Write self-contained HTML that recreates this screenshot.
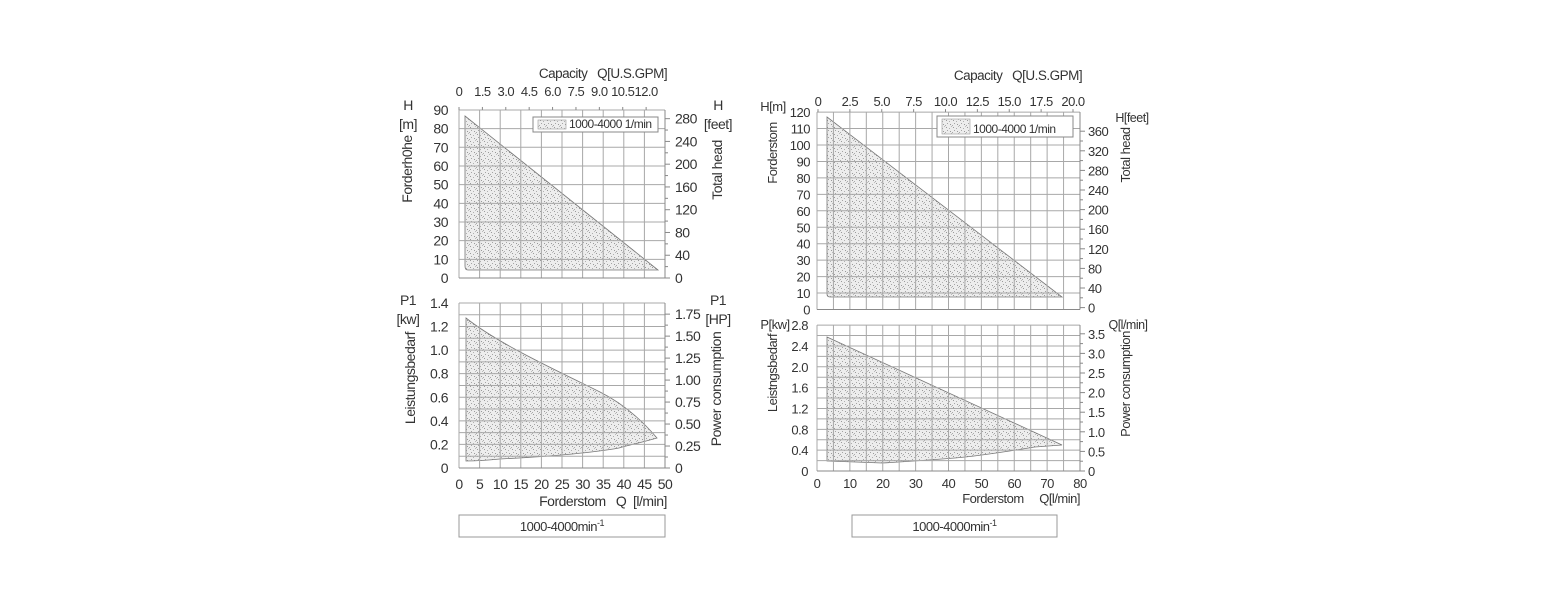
<!DOCTYPE html>
<html><head><meta charset="utf-8"><style>
html,body{margin:0;padding:0;background:#fff;}
svg{display:block;}
text{font-family:"Liberation Sans",sans-serif;fill:#333;letter-spacing:-0.5px;}
</style></head><body>
<svg id="s" width="1560" height="600" xmlns="http://www.w3.org/2000/svg">
<defs>
<pattern id="dots" width="7" height="7" patternUnits="userSpaceOnUse">
<rect width="7" height="7" fill="#ededed"/>
<rect x="1" y="1" width="1" height="1" fill="#9a9a9a"/>
<rect x="4" y="2" width="1" height="1" fill="#b0b0b0"/>
<rect x="2" y="4" width="1" height="1" fill="#a5a5a5"/>
<rect x="5" y="5" width="1" height="1" fill="#999"/>
<rect x="6" y="0" width="1" height="1" fill="#bbb"/>
<rect x="0" y="6" width="1" height="1" fill="#aaa"/>
</pattern>
</defs>
<g id="g"></g>
</svg>
<script>
const g=document.getElementById('g');let h='';
function L(x1,y1,x2,y2,c,w){h+=`<line x1="${x1}" y1="${y1}" x2="${x2}" y2="${y2}" stroke="${c||'#a8a8a8'}" stroke-width="${w||1}"/>`;}
function T(x,y,s,a,fs,extra){h+=`<text x="${x}" y="${y}" font-size="${fs||13}" text-anchor="${a||'middle'}" ${extra||''}>${s}</text>`;}
function R(x,y,s,fs){h+=`<text x="0" y="0" font-size="${fs||13}" text-anchor="middle" transform="translate(${x},${y}) rotate(-90)">${s}</text>`;}
function P(d){h+=`<path d="${d}" fill="url(#dots)" stroke="#777" stroke-width="0.8"/>`;}
function legend(x,y,w,hh){h+=`<rect x="${x}" y="${y}" width="${w}" height="${hh}" fill="#fff" stroke="#888"/>`;h+=`<rect x="${x+5}" y="${y+3}" width="28" height="${hh-6}" fill="url(#dots)" stroke="#999" stroke-width="0.6"/>`;T(x+36,y+hh-4,'1000-4000 1/min','start',12);}
function box(x,y,w,hh){h+=`<rect x="${x}" y="${y}" width="${w}" height="${hh}" fill="#fff" stroke="#999"/>`;h+=`<text x="${x+w/2}" y="${y+16}" font-size="13" text-anchor="middle">1000-4000min<tspan dy="-5" font-size="9">-1</tspan></text>`;}

// ===== LEFT TOP =====
let x0=459,x1=665,kx=4.12;
let yT=(m)=>278-m*1.867;
P(`M465,116 L658,270 L468,270 Q465,270 465,266 Z`);
for(let q=0;q<=50;q+=5)L(x0+q*kx,yT(90),x0+q*kx,278);
for(let m=0;m<=90;m+=10){L(x0,yT(m),x1,yT(m));T(448,yT(m)+5,m,'end',14);}
L(x0,278,x1,278,'#888');L(x1,yT(90),x1,278,'#888');
for(let f=0;f<=280;f+=20){let y=278-f*0.3048*1.867;L(x1,y,x1+(f%40==0?5:3),y,'#888');if(f%40==0)T(675,y+5,f,'start',14);}
['0','1.5','3.0','4.5','6.0','7.5','9.0','10.5','12.0'].forEach((s,i)=>{let x=x0+i*1.5*3.785*kx;T(x,96,s,'middle',13,'letter-spacing="-1"');L(x,yT(90),x,yT(90)-3,'#888');});
T(603,78,'Capacity&#160;&#160;&#160;Q[U.S.GPM]','middle',13.5);
T(408,110,'H','middle',14);T(408,129,'[m]','middle',14);R(412,169,'Forderh0he',14);
T(718,110,'H','middle',14);T(718,129,'[feet]','middle',14);R(722,170,'Total head',14);
legend(533,117,125,15);

// ===== LEFT BOTTOM =====
let yP=(k)=>468-k*117.9;
P(`M466,318 C500,345 560,372 600,392 C620,402 640,418 657,438 C640,443 625,446 619,448 C580,455 520,458 500,459 C480,461 470,461 466,461 Z`);
for(let q=0;q<=50;q+=5){L(x0+q*kx,yP(1.4),x0+q*kx,468);T(x0+q*kx,489,q,'middle',14);}
for(let i=0;i<=14;i++){let k=i/10;L(x0,yP(k),x1,yP(k));if(i%2==0)T(448,yP(k)+5,i==0?'0':k.toFixed(1),'end',14);}
L(x0,468,x1,468,'#888');L(x1,yP(1.4),x1,468,'#888');
for(let i=0;i<=14;i++){let hp=i*0.125;let y=468-hp*0.7457*117.9;L(x1,y,x1+(i%2==0?5:3),y,'#888');if(i%2==0)T(675,y+5,i==0?'0':hp.toFixed(2),'start',14);}
T(603,506,'Forderstom&#160;&#160;&#160;Q&#160;&#160;[l/min]','middle',14);
T(408,305,'P1','middle',14);T(408,324,'[kw]','middle',14);R(415,378,'Leistungsbedarf',14);
T(718,305,'P1','middle',14);T(718,324,'[HP]','middle',14);R(721,389,'Power consumption',14);
box(459,515,206,22);

// ===== RIGHT TOP =====
let X0=817,X1=1080,KX=3.2875;
let yR=(m)=>309.5-m*1.645;
P(`M827,117 L1062,297 L830,297 Q827,297 827,294 Z`);
for(let q=0;q<=80;q+=5)L(X0+q*KX,yR(120),X0+q*KX,309.5);
for(let m=0;m<=120;m+=10){L(X0,yR(m),X1,yR(m));T(810,yR(m)+5,m,'end',13);}
L(X0,309.5,X1,309.5,'#888');L(X1,yR(120),X1,309.5,'#888');
for(let f=0;f<=360;f+=20){let y=307.6-f*19.6/40;L(X1,y,X1+(f%40==0?5:3),y,'#888');if(f%40==0)T(1088,y+5,f,'start',13);}
['0','2.5','5.0','7.5','10.0','12.5','15.0','17.5','20.0'].forEach((s,i)=>{let x=818+i*2.5*12.75;T(x,106,s,'middle',13);L(x,yR(120),x,yR(120)-3,'#888');});
T(1018,80,'Capacity&#160;&#160;&#160;Q[U.S.GPM]','middle',13.5);
T(773,111,'H[m]','middle',13);R(777,153,'Forderstom',13);
T(1132,122,'H[feet]','middle',12.5);R(1130,155,'Total head',13);
legend(937,116,136,21);

// ===== RIGHT BOTTOM =====
let yQ=(k)=>471-k*52.1;
P(`M827,337 L1062,445 L1035,447 C1010,451 980,456 955,458 C930,460 900,462 882,463 L855,462 L827,461 Z`);
for(let q=0;q<=80;q+=5){L(X0+q*KX,yQ(2.8),X0+q*KX,471);if(q%10==0)T(X0+q*KX,488,q,'middle',13);}
for(let i=0;i<=14;i++){let k=i*0.2;L(X0,yQ(k),X1,yQ(k));if(i%2==0)T(808,yQ(k)+5,i==0?'0':k.toFixed(1),'end',13);}
L(X0,471,X1,471,'#888');L(X1,yQ(2.8),X1,471,'#888');
for(let i=0;i<=14;i++){let v=i*0.25;let y=471-v*39.2;L(X1,y,X1+(i%2==0?5:3),y,'#888');if(i%2==0)T(1088,y+5,i==0?'0':v.toFixed(1),'start',13);}
T(1080,503,'Forderstom&#160;&#160;&#160;&#160;&#160;Q[l/min]','end',13);
T(775,329,'P[kw]','middle',13);R(777,373,'Leistngsbedarf',13);
T(1128,329,'Q[l/min]','middle',12.5);R(1130,384,'Power consumption',13);
box(852,515,205,22);

g.innerHTML=h;
</script>
</body></html>
